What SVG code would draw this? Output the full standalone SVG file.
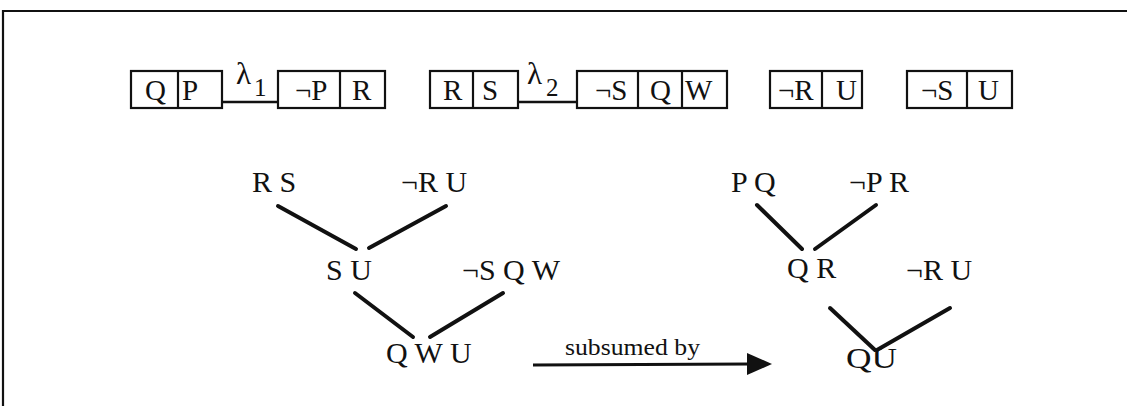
<svg xmlns="http://www.w3.org/2000/svg" width="1127" height="406" viewBox="0 0 1127 406">
<style>
text{font-family:"Liberation Serif","Times New Roman",serif;fill:#111}
.t{font-size:29px}
.n{font-size:30px}
.bx{fill:none;stroke:#111;stroke-width:2.2}
.ln{stroke:#111;stroke-width:2.4;fill:none}
.e{stroke:#111;stroke-width:4;stroke-linecap:round;fill:none}
.lam{font-size:31px}
.sub{font-size:25px}
.sm{font-size:23px}
</style>
<rect width="1127" height="406" fill="#fff"/>
<path d="M3,406 V11 H1127" fill="none" stroke="#111" stroke-width="2.2"/>

<g id="connectors">
<line class="ln" x1="222" y1="102" x2="278" y2="102"/>
<line class="ln" x1="518" y1="102" x2="577" y2="102"/>
<line class="e" x1="278" y1="206" x2="356" y2="249"/>
<line class="e" x1="446" y1="206" x2="369" y2="248"/>
<line class="e" x1="355" y1="293" x2="413" y2="337"/>
<line class="e" x1="503" y1="293" x2="430" y2="337"/>
<line class="e" x1="757" y1="205" x2="802" y2="249"/>
<line class="e" x1="876" y1="205" x2="815" y2="249"/>
<line class="e" x1="830" y1="308" x2="875" y2="350"/>
<line class="e" x1="950" y1="308" x2="877" y2="350"/>
<line x1="533" y1="365" x2="750" y2="364" stroke="#111" stroke-width="3"/>
<path d="M747,353 L772,364 L747,375 Z" fill="#111"/>
</g>

<g id="lambda1">
<text class="lam" x="236" y="84">λ</text><text class="sub" x="254" y="96">1</text>
</g>
<g id="lambda2">
<text class="lam" x="527" y="84">λ</text><text class="sub" x="546" y="96">2</text>
</g>

<g id="box-QP">
<rect class="bx" x="131" y="71" width="91" height="37"/>
<line class="bx" x1="178" y1="71" x2="178" y2="108"/>
<text class="t" x="145" y="100">Q</text><text class="t" x="182" y="100">P</text>
</g>
<g id="box-nPR">
<rect class="bx" x="278" y="71" width="107" height="37"/>
<line class="bx" x1="340" y1="71" x2="340" y2="108"/>
<text class="t" x="295" y="100">¬P</text><text class="t" x="352" y="100">R</text>
</g>
<g id="box-RS">
<rect class="bx" x="430" y="71" width="88" height="37"/>
<line class="bx" x1="473" y1="71" x2="473" y2="108"/>
<text class="t" x="443" y="100">R</text><text class="t" x="482" y="100">S</text>
</g>
<g id="box-nSQW">
<rect class="bx" x="577" y="71" width="150" height="37"/>
<line class="bx" x1="638" y1="71" x2="638" y2="108"/>
<line class="bx" x1="682" y1="71" x2="682" y2="108"/>
<text class="t" x="595" y="100">¬S</text><text class="t" x="650" y="100">Q</text><text class="t" x="685" y="100">W</text>
</g>
<g id="box-nRU">
<rect class="bx" x="770" y="71" width="92" height="37"/>
<line class="bx" x1="822" y1="71" x2="822" y2="108"/>
<text class="t" x="778" y="100">¬R</text><text class="t" x="836" y="100">U</text>
</g>
<g id="box-nSU">
<rect class="bx" x="907" y="71" width="105" height="37"/>
<line class="bx" x1="967" y1="71" x2="967" y2="108"/>
<text class="t" x="921" y="100">¬S</text><text class="t" x="978" y="100">U</text>
</g>

<g id="n-RS"><text class="n" x="252" y="192">R S</text></g>
<g id="n-nRU-left"><text class="n" x="401" y="192">¬R U</text></g>
<g id="n-SU"><text class="n" x="326" y="280">S U</text></g>
<g id="n-nSQW"><text class="n" x="462" y="280">¬S Q W</text></g>
<g id="n-QWU"><text class="n" x="386" y="363">Q W U</text></g>
<g id="label-subsumed"><text class="sm" x="565" y="355" textLength="135" lengthAdjust="spacingAndGlyphs">subsumed by</text></g>
<g id="n-PQ"><text class="n" x="731" y="192">P Q</text></g>
<g id="n-nPR"><text class="n" x="849" y="192">¬P R</text></g>
<g id="n-QR"><text class="n" x="787" y="278">Q R</text></g>
<g id="n-nRU-right"><text class="n" x="906" y="280">¬R U</text></g>
<g id="n-QU"><text class="n" x="846" y="368" textLength="51" lengthAdjust="spacingAndGlyphs">QU</text></g>
</svg>
